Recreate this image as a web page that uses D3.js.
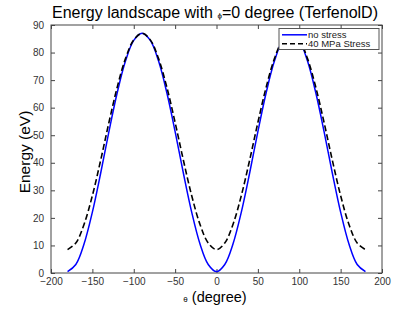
<!DOCTYPE html>
<html>
<head>
<meta charset="utf-8">
<script src="https://cdn.jsdelivr.net/npm/d3@7"></script>
<style>
body { margin: 0; background: #fff; }
text { font-family: "Liberation Sans", Arial, sans-serif; }
</style>
</head>
<body>
<svg width="415" height="312"></svg>
<script>
var theta = [-180,-170,-160,-150,-140,-130,-120,-110,-100,-90,-80,-70,-60,-50,-40,-30,-20,-10,0,
  10,20,30,40,50,60,70,80,90,100,110,120,130,140,150,160,170,180];
var noStress = [0.5,3.1,10.6,22.1,36.2,51.3,65.4,76.9,84.4,87.0,84.4,76.9,65.4,51.3,36.2,22.1,10.6,3.1,0.5,
  3.1,10.6,22.1,36.2,51.3,65.4,76.9,84.4,87.0,84.4,76.9,65.4,51.3,36.2,22.1,10.6,3.1,0.5];
var stress40 = [8.5,10.9,17.7,28.1,40.9,54.6,67.4,77.8,84.6,87.0,84.6,77.8,67.4,54.6,40.9,28.1,17.7,10.9,8.5,
  10.9,17.7,28.1,40.9,54.6,67.4,77.8,84.6,87.0,84.6,77.8,67.4,54.6,40.9,28.1,17.7,10.9,8.5];
var xTicks = [-200,-150,-100,-50,0,50,100,150,200];
var yTicks = [0,10,20,30,40,50,60,70,80,90];
var seriesNames = ["no stress", "40 MPa Stress"];

var svg = d3.select("svg");
var mLeft = 51, mRight = 382, mTop = 25, mBottom = 273;
var width = mRight - mLeft, height = mBottom - mTop;

var x = d3.scaleLinear().domain([-200, 200]).range([0, width]);
var y = d3.scaleLinear().domain([0, 90]).range([height, 0]);

var g = svg.append("g").attr("transform", "translate(" + mLeft + "," + mTop + ")");

// axes with inward ticks on all four sides
var axisCol = "#444";
function styleAxis(sel) {
  sel.select(".domain").remove();
  sel.selectAll("line").attr("stroke", axisCol);
  sel.selectAll("text").attr("fill", "#333").style("font-size", "10px");
}
g.append("g").attr("transform", "translate(0," + height + ")")
  .call(d3.axisBottom(x).tickValues(xTicks).tickSizeInner(-4).tickSizeOuter(0).tickPadding(5))
  .call(styleAxis);
g.append("g")
  .call(d3.axisTop(x).tickValues(xTicks).tickSizeInner(-4).tickSizeOuter(0).tickFormat(""))
  .call(styleAxis);
g.append("g")
  .call(d3.axisLeft(y).tickValues(yTicks).tickSizeInner(-4).tickSizeOuter(0).tickPadding(7))
  .call(styleAxis);
g.append("g").attr("transform", "translate(" + width + ",0)")
  .call(d3.axisRight(y).tickValues(yTicks).tickSizeInner(-4).tickSizeOuter(0).tickFormat(""))
  .call(styleAxis);

g.append("rect").attr("width", width).attr("height", height)
  .attr("fill", "none").attr("stroke", axisCol).attr("stroke-width", 1);

var line = d3.line()
  .x(function(d, i) { return x(theta[i]); })
  .y(function(d) { return y(d); })
  .curve(d3.curveCatmullRom);

g.append("path").datum(noStress).attr("d", line)
  .attr("fill", "none").attr("stroke", "#0000ff").attr("stroke-width", 1.5);
g.append("path").datum(stress40).attr("d", line)
  .attr("fill", "none").attr("stroke", "#000").attr("stroke-width", 1.6)
  .attr("stroke-dasharray", "6,3");

// legend
var lg = svg.append("g").attr("transform", "translate(279,28.5)");
lg.append("rect").attr("width", 100).attr("height", 21)
  .attr("fill", "#fff").attr("stroke", "#555");
var styles = [{c: "#0000ff", d: null}, {c: "#000", d: "5,3"}];
seriesNames.forEach(function(n, i) {
  lg.append("line").attr("x1", 3).attr("x2", 28).attr("y1", 6.3 + i * 9).attr("y2", 6.3 + i * 9)
    .attr("stroke", styles[i].c).attr("stroke-width", 1.5)
    .attr("stroke-dasharray", styles[i].d);
  lg.append("text").attr("x", 29).attr("y", 9.5 + i * 9)
    .style("font-size", "9.5px").attr("fill", "#222").text(n);
});

// title and labels
var title = svg.append("text").attr("x", 215).attr("y", 18).attr("text-anchor", "middle")
  .style("font-size", "16px").attr("fill", "#000");
title.append("tspan").text("Energy landscape with ");
title.append("tspan").style("font-size", "8px").text("\u03D5");
title.append("tspan").text("=0 degree (TerfenolD)");

var xl = svg.append("text").attr("x", 215).attr("y", 302).attr("text-anchor", "middle")
  .style("font-size", "14.5px").attr("fill", "#000");
xl.append("tspan").style("font-size", "8px").text("\u03B8");
xl.append("tspan").text(" (degree)");

svg.append("text").attr("transform", "translate(30,152) rotate(-90)")
  .attr("text-anchor", "middle").style("font-size", "15.5px").attr("fill", "#000")
  .text("Energy (eV)");
</script>
</body>
</html>
